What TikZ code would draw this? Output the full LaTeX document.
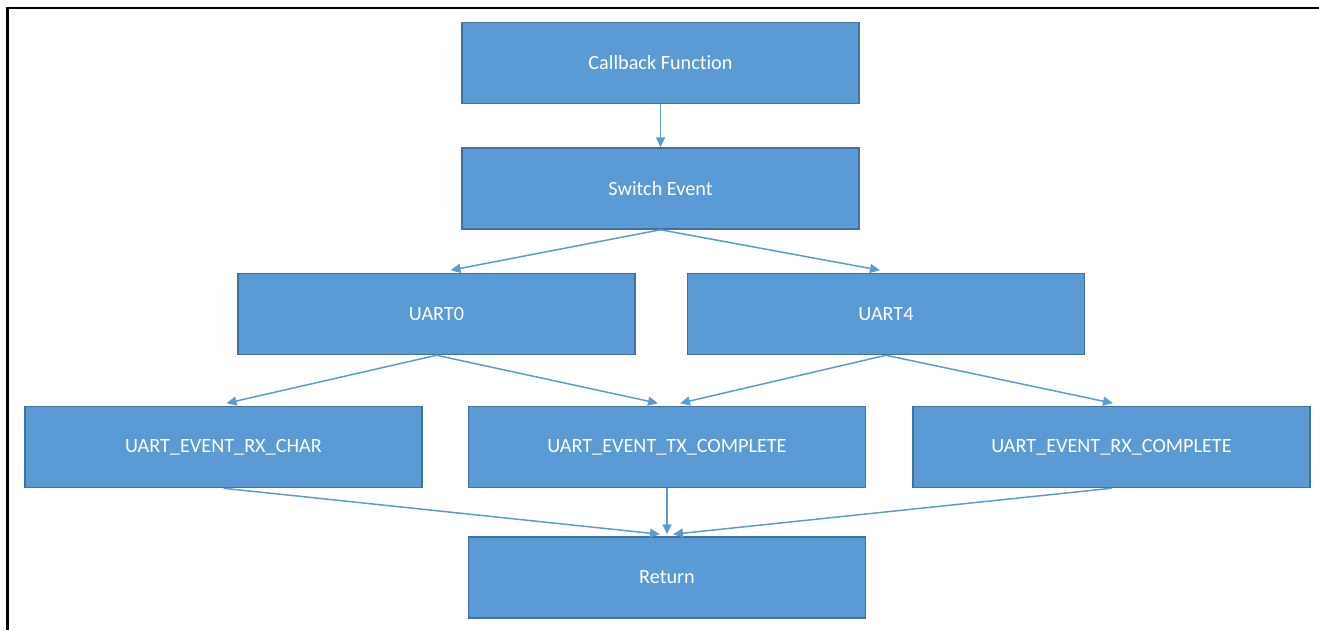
\documentclass[tikz,border=0pt]{standalone}
\usepackage{fontspec}
\setmainfont{Carlito}[Ligatures=NoCommon]
\usepackage{tikz}
\usetikzlibrary{arrows.meta,positioning}
\definecolor{box_fill}{HTML}{5B9BD5}
\definecolor{box_edge}{HTML}{41719C}
\tikzset{
flow_box/.style={rectangle, draw=box_edge, line width=0.03cm, fill=box_fill, text=white, minimum width=7.94cm, minimum height=1.62cm, inner sep=0pt, font=\fontsize{11.5}{13}\selectfont},
flow_arrow/.style={draw=box_fill, line width=0.03cm, -{Triangle[length=0.2cm, width=0.18cm]}},
frame_line/.style={draw=black, line width=0.05cm}
}

\begin{document}
\begin{tikzpicture}
    \useasboundingbox (0,0) rectangle (26.38,-12.6);
    \draw[frame_line] (0.15,-12.6) -- (0.15,-0.16) -- (26.38,-0.16);

    \node[flow_box] (callback) at (13.21,-1.26) {Callback Function};
    \node[flow_box] (switch_event) [below=0.86 of callback] {Switch Event};
    \node[flow_box] (uart_0) [below=0.86 of switch_event, xshift=-4.48cm] {UART0};
    \node[flow_box] (uart_4) [right=1.02 of uart_0] {UART4};
    \node[flow_box] (tx_complete) at (13.34,-8.94) {UART\_EVENT\_TX\_COMPLETE};
    \node[flow_box] (rx_char) [left=0.9 of tx_complete] {UART\_EVENT\_RX\_CHAR};
    \node[flow_box] (rx_complete) [right=0.92 of tx_complete] {UART\_EVENT\_RX\_COMPLETE};
    \node[flow_box] (return_node) [below=0.96 of tx_complete] {Return};

    \draw[flow_arrow] (callback.south) -- (switch_event.north);
    \draw[flow_arrow] (switch_event.south) -- ([xshift=0.28cm, yshift=0.05cm]uart_0.north);
    \draw[flow_arrow] (switch_event.south) -- ([xshift=-0.12cm, yshift=0.05cm]uart_4.north);
    \draw[flow_arrow] (uart_0.south) -- ([xshift=0.06cm, yshift=0.05cm]rx_char.north);
    \draw[flow_arrow] (uart_0.south) -- ([xshift=-0.18cm, yshift=0.05cm]tx_complete.north);
    \draw[flow_arrow] (uart_4.south) -- ([xshift=0.26cm, yshift=0.05cm]tx_complete.north);
    \draw[flow_arrow] (uart_4.south) -- ([xshift=0.03cm, yshift=0.05cm]rx_complete.north);
    \draw[flow_arrow] (rx_char.south) -- ([xshift=-0.14cm, yshift=0.04cm]return_node.north);
    \draw[flow_arrow] (tx_complete.south) -- ([yshift=0.04cm]return_node.north);
    \draw[flow_arrow] (rx_complete.south) -- ([xshift=0.12cm, yshift=0.04cm]return_node.north);
\end{tikzpicture}
\end{document}
